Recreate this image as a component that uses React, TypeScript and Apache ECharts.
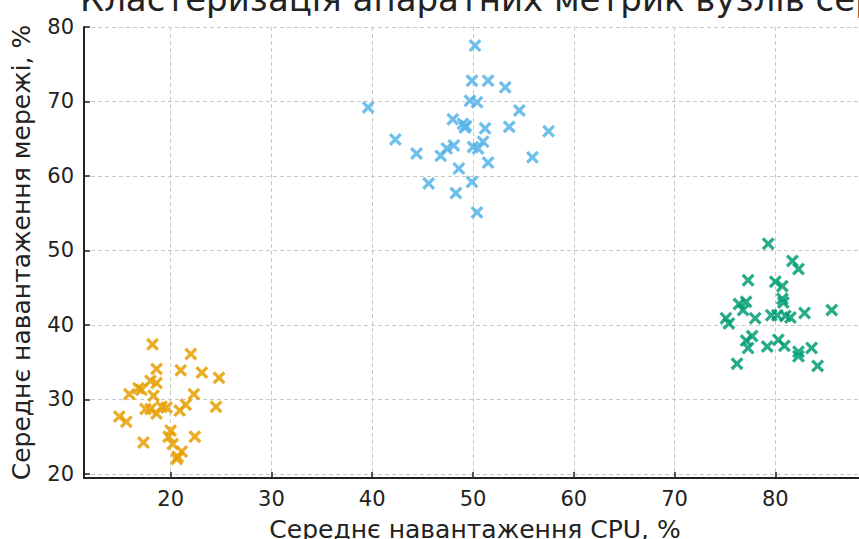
import React, { useEffect, useRef } from "react";
import * as echarts from "echarts";

const titleText = "Кластеризація апаратних метрик вузлів серверів";
const xAxisName = "Середнє навантаження CPU, %";
const yAxisName = "Середнє навантаження мережі, %";

const orangeX = [18.2, 22.0, 18.6, 21.0, 23.1, 24.8, 18.0, 18.6, 16.8, 15.9, 17.1, 18.3, 22.3, 21.5, 24.5, 17.5, 18.0, 18.6, 19.1, 19.6, 20.9, 14.9, 15.6, 20.0, 22.4, 17.3, 19.8, 20.2, 21.1, 20.7, 20.6];
const orangeY = [37.4, 36.1, 34.1, 33.9, 33.6, 32.9, 32.5, 32.2, 31.5, 30.7, 31.3, 30.5, 30.7, 29.3, 29.0, 28.7, 28.7, 28.1, 29.0, 28.9, 28.5, 27.7, 27.0, 25.8, 25.0, 24.2, 25.0, 24.0, 23.0, 22.3, 22.0];

const blueX = [50.2, 49.9, 51.5, 53.2, 39.6, 49.7, 50.4, 54.6, 48.0, 49.0, 49.3, 49.2, 51.2, 53.6, 57.5, 42.3, 51.0, 48.1, 47.4, 50.0, 50.5, 46.8, 44.4, 55.9, 51.5, 48.6, 45.6, 49.9, 48.3, 50.4];
const blueY = [77.5, 72.8, 72.8, 71.9, 69.2, 70.1, 69.9, 68.8, 67.6, 67.0, 66.7, 66.5, 66.4, 66.6, 66.0, 64.9, 64.6, 64.1, 63.7, 63.9, 63.7, 62.7, 63.0, 62.5, 61.8, 61.0, 59.0, 59.2, 57.7, 55.1];

const greenX = [79.3, 81.7, 82.3, 77.3, 80.0, 80.7, 80.7, 80.8, 76.4, 77.1, 76.8, 78.0, 79.6, 80.2, 81.0, 81.5, 82.9, 85.6, 75.1, 75.4, 77.7, 77.1, 77.3, 80.3, 80.9, 79.2, 82.3, 83.6, 82.3, 76.2, 84.2];
const greenY = [50.9, 48.6, 47.5, 46.0, 45.8, 45.2, 43.5, 43.0, 42.8, 43.1, 42.0, 40.9, 41.3, 41.3, 41.2, 41.0, 41.6, 42.0, 40.9, 40.2, 38.5, 37.9, 36.9, 38.0, 37.2, 37.1, 36.4, 36.9, 35.8, 34.8, 34.5];

const xMin = 11.4;
const xMax = 89.0;
const yMin = 19.45;
const yMax = 80;

const FONT = "DejaVu Sans";
const X_SYMBOL =
  "path://M0,1.8 L1.8,0 L5,3.2 L8.2,0 L10,1.8 L6.8,5 L10,8.2 L8.2,10 L5,6.8 L1.8,10 L0,8.2 L3.2,5 Z";

function pairs(xs: number[], ys: number[]) {
  return xs.map((x, i) => [x, ys[i]]);
}

export default function App() {
  const ref = useRef<HTMLDivElement>(null);
  useEffect(() => {
    if (!ref.current) return;
    const chart = echarts.init(ref.current, undefined, { renderer: "svg" });
    const axisCommon = {
      type: "value" as const,
      axisLine: { show: true, lineStyle: { color: "#222", width: 2 } },
      axisTick: { show: true, inside: true, length: 6, lineStyle: { color: "#222", width: 1.5 } },
      axisLabel: {
        color: "#222",
        fontSize: 21,
        fontFamily: FONT,
        margin: 10,
        showMinLabel: false,
        showMaxLabel: false,
      },
      splitLine: { show: true, lineStyle: { color: "#c8c8c8", width: 1, type: [4, 3] } },
      nameLocation: "middle" as const,
      nameTextStyle: { color: "#222", fontSize: 25, fontFamily: FONT },
    };
    const series = [
      { data: pairs(orangeX, orangeY), color: "#E69F00" },
      { data: pairs(blueX, blueY), color: "#56B4E9" },
      { data: pairs(greenX, greenY), color: "#009E73" },
    ].map((s) => ({
      type: "scatter" as const,
      data: s.data,
      symbol: X_SYMBOL,
      symbolSize: 13,
      itemStyle: { color: s.color, opacity: 0.85 },
    }));
    chart.setOption({
      animation: false,
      backgroundColor: "#ffffff",
      grid: {
        left: 84,
        top: 27,
        right: -7,
        bottom: 61,
        containLabel: false,
        outerBoundsMode: "none",
      },
      xAxis: {
        ...axisCommon,
        min: xMin,
        max: xMax,
        splitNumber: 8,
        name: xAxisName,
        nameGap: 39,
      },
      yAxis: {
        ...axisCommon,
        min: yMin,
        max: yMax,
        splitNumber: 6,
        name: yAxisName,
        nameGap: 50,
        axisLabel: { ...axisCommon.axisLabel, showMaxLabel: true },
      },
      graphic: [
        {
          type: "text",
          x: 80,
          y: -1,
          silent: true,
          style: {
            text: titleText,
            fontSize: 34,
            fontFamily: FONT,
            fill: "#222",
            textVerticalAlign: "middle",
            verticalAlign: "middle",
          },
        },
      ],
      series,
    });
    return () => chart.dispose();
  }, []);
  return (
    <div
      ref={ref}
      style={{ position: "absolute", left: 0, top: 0, width: 859, height: 539 }}
    />
  );
}
